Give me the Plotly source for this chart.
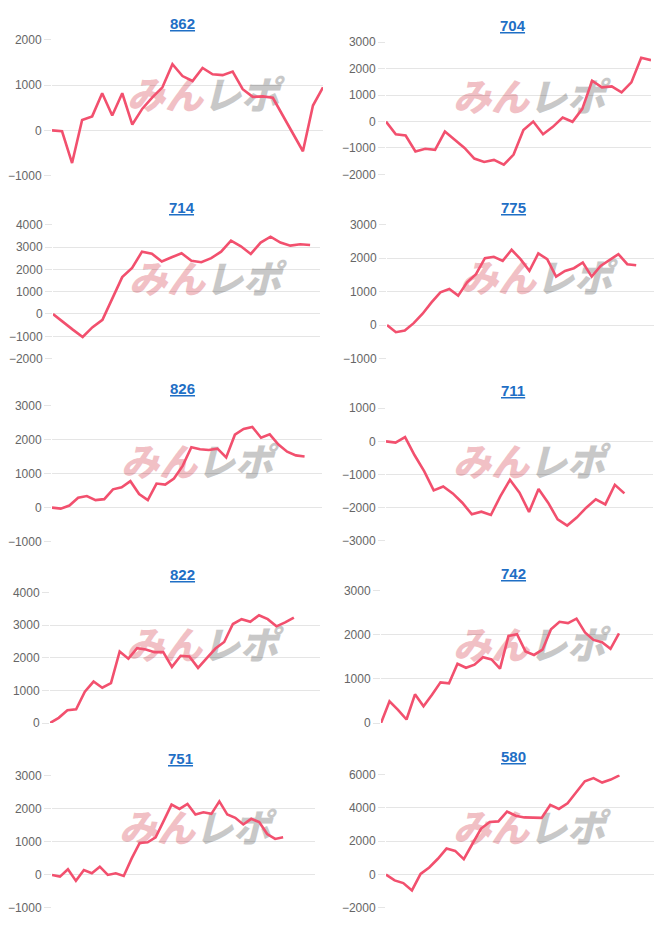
import plotly.graph_objects as go

W, H = 666, 930

# ---------------- data ----------------
titles = ["862", "704", "714", "775", "826", "711", "822", "742", "751", "580"]

s862 = [0, -20, -720, 230, 310, 820, 330, 820, 130, 480, 730, 950, 1460, 1200, 1090,
        1380, 1240, 1220, 1300, 910, 740, 750, 720, 320, -70, -460, 550, 950]
s704 = [0, -480, -530, -1130, -1030, -1070, -380, -690, -1000, -1400, -1530, -1450, -1630,
        -1250, -320, 0, -480, -200, 150, -10, 480, 1540, 1290, 1330, 1100, 1480, 2410, 2320]
s714 = [0, -370, -700, -1030, -590, -260, 660, 1650, 2060, 2790, 2700, 2350, 2540, 2720,
        2380, 2320, 2500, 2790, 3280, 3030, 2690, 3200, 3460, 3200, 3060, 3120, 3090]
s775 = [0, -210, -160, 60, 340, 680, 980, 1080, 880, 1280, 1520, 2000, 2040, 1920, 2250,
        1970, 1620, 2140, 1970, 1450, 1620, 1700, 1870, 1450, 1770, 1940, 2120, 1820, 1790]
s826 = [0, -30, 60, 290, 340, 220, 250, 540, 600, 780, 400, 220, 710, 680, 860, 1230,
        1780, 1720, 1700, 1740, 1480, 2150, 2320, 2380, 2060, 2160, 1860, 1650, 1540, 1510]
s711 = [0, -40, 130, -420, -900, -1480, -1360, -1570, -1850, -2200, -2120, -2220, -1650,
        -1160, -1550, -2130, -1440, -1850, -2350, -2540, -2300, -2000, -1750, -1900, -1310, -1570]
s822 = [0, 160, 390, 420, 960, 1270, 1080, 1220, 2190, 1970, 2290, 2250, 2170, 2170, 1720,
        2060, 2040, 1690, 1990, 2280, 2480, 3030, 3180, 3100, 3300, 3180, 2960, 3080, 3230]
s742 = [0, 490, 300, 80, 650, 380, 640, 920, 900, 1340, 1250, 1320, 1490, 1440, 1230, 1970,
        2010, 1620, 1540, 1660, 2120, 2290, 2260, 2360, 2050, 1880, 1830, 1680, 2030]
s751 = [0, -50, 170, -180, 150, 50, 250, 0, 50, -30, 500, 970, 990, 1140, 1630, 2130, 2000,
        2150, 1830, 1900, 1850, 2230, 1830, 1730, 1530, 1700, 1600, 1240, 1090, 1140]
s580 = [0, -350, -510, -950, 40, 430, 950, 1560, 1420, 930, 1850, 2760, 3150, 3190, 3780,
        3530, 3430, 3400, 3400, 4180, 3940, 4280, 4970, 5600, 5790, 5520, 5700, 5950]

series = [s862, s704, s714, s775, s826, s711, s822, s742, s751, s580]
n_slots = [28, 28, 28, 31, 32, 29, 32, 33, 34, 32]          # number of x categories per chart
y_min = [-1000, -2000, -2000, -1000, -1000, -3000, 0, 0, -1000, -2000]
y_max = [2000, 3000, 4000, 3000, 3000, 1000, 4000, 3000, 3000, 6000]
y_step = [1000, 1000, 1000, 1000, 1000, 1000, 1000, 1000, 1000, 2000]

# ---------------- layout geometry (px) ----------------
boxes = [  # left, right, top, bottom
    (52, 323, 33.3, 171.3), (386, 651, 35.7, 170),
    (53, 320, 221, 357), (387, 654, 221, 357),
    (52, 322, 405, 542.7), (386, 653, 407.3, 542),
    (50, 320, 594.3, 727), (381, 653, 592.3, 727),
    (52, 315, 780.7, 914.7), (386, 654, 779.3, 914.7),
]
title_xy = [(182, 16.7), (513, 18.3), (182, 203.3), (513, 203.3), (182, 387.3),
            (513, 389.5), (182, 575.7), (513, 575), (180, 762.7), (513, 760.7)]
wm_xy = [(203, 93), (529, 95), (205, 280), (536, 279), (197, 466),
         (529, 466), (202, 651), (529, 651), (195, 837), (529, 837)]

LINE = "#f2506e"
GRID = "rgba(0,0,0,0.1)"
TITLE_COLOR = "#1f6fc5"

fig = go.Figure()
shapes = []
annotations = []
layout_axes = {}

for i, (name, vals) in enumerate(zip(titles, series)):
    k = "" if i == 0 else str(i + 1)
    l, r, t, b = boxes[i]
    fig.add_trace(go.Scatter(
        x=list(range(len(vals))), y=vals, mode="lines",
        line=dict(color=LINE, width=2.6), hoverinfo="skip", showlegend=False,
        xaxis="x" + k, yaxis="y" + k,
    ))
    layout_axes["xaxis" + k] = dict(
        domain=[l / W, r / W], range=[0, n_slots[i] - 1], visible=False,
        anchor="y" + k, fixedrange=True,
    )
    layout_axes["yaxis" + k] = dict(
        domain=[1 - b / H, 1 - t / H], range=[y_min[i], y_max[i]],
        tick0=0, dtick=y_step[i], anchor="x" + k,
        showgrid=True, gridcolor=GRID, gridwidth=1, zeroline=False,
        ticks="outside", ticklen=7, tickcolor=GRID, showline=False,
        tickfont=dict(family="Liberation Sans, Arial, sans-serif", size=12, color="#666"),
        fixedrange=True,
    )
    # title
    tx, ty = title_xy[i]
    annotations.append(dict(
        text=name, x=tx / W, y=1 - ty / H, xref="paper", yref="paper",
        xanchor="center", yanchor="middle", showarrow=False,
        font=dict(family="Liberation Sans, Arial, sans-serif", size=15,
                  color=TITLE_COLOR, weight="bold", lineposition="under"),
    ))
    # watermark drawn below the data line
    wx, wy = wm_xy[i]
    shapes.append(dict(
        type="rect", xref="paper", yref="paper", layer="below",
        x0=(wx - 85) / W, x1=(wx + 85) / W, y0=1 - (wy + 17) / H, y1=1 - (wy - 17) / H,
        line=dict(width=0), fillcolor="rgba(0,0,0,0)",
        label=dict(
            text="<i><span style='font-weight:900;color:#f1c0c5'>みん</span>"
                 "<span style='font-weight:900;color:#c8c8c8'>レポ</span></i>",
            font=dict(family="Noto Sans CJK JP", size=38, color="#c8c8c8"),
            textposition="middle center",
        ),
    ))

fig.update_layout(
    width=W, height=H, margin=dict(l=0, r=0, t=0, b=0),
    paper_bgcolor="white", plot_bgcolor="rgba(0,0,0,0)",
    shapes=shapes, annotations=annotations, showlegend=False,
    **layout_axes,
)

fig.write_html("out.html", config={"displayModeBar": False})
